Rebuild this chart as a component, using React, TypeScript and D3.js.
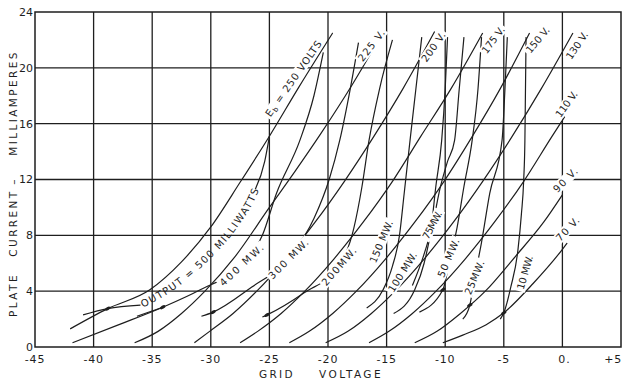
import React from 'react';
import * as d3 from 'd3';

const W = 624;
const H = 383;

// ---- axis ticks ----
const xTickValues = [-45, -40, -35, -30, -25, -20, -15, -10, -5, 0, 5];
const xTickLabels = ['-45', '-40', '-35', '-30', '-25', '-20', '-15', '-10', '-5', '0.', '+5'];
const yTickValues = [0, 4, 8, 12, 16, 20, 24];

// ---- constant plate-voltage curves (grid volts, plate mA) ----
const plate250 = [[-42, 1.3], [-38.8, 2.75], [-35.2, 4.1], [-32.5, 6.1], [-30, 8.6], [-27.5, 11.8], [-25, 15.1], [-22.5, 18.6], [-19.6, 22.5]];
const plate225 = [[-36.5, 0.3], [-34.5, 1.12], [-32.5, 2.4], [-30.5, 4.0], [-28, 6.4], [-25, 10.0], [-22.8, 12.6], [-20.6, 15.3], [-18, 18.7], [-15.2, 22.7]];
const plate200 = [[-31.4, 0.3], [-30.1, 1.12], [-28.1, 2.4], [-26.1, 3.98], [-23.6, 6.3], [-21.1, 8.94], [-18.6, 11.87], [-16.1, 15.07], [-13.6, 18.51], [-10.9, 22.6]];
const plate175 = [[-27.5, 0.3], [-26, 1.12], [-24, 2.4], [-22, 3.98], [-19.5, 6.3], [-17, 8.94], [-14.5, 11.87], [-12.1, 15.07], [-9.5, 18.51], [-6.8, 22.5]];
const plate150 = [[-23.3, 0.3], [-21.6, 1.12], [-19.6, 2.4], [-17.6, 3.98], [-15.1, 6.3], [-12.6, 8.94], [-10.1, 11.87], [-7.7, 15.07], [-5.3, 18.51], [-2.8, 22.5]];
const plate130 = [[-20.2, 0.3], [-18.3, 1.12], [-16.3, 2.4], [-14.3, 3.98], [-11.8, 6.3], [-9.3, 8.94], [-6.8, 11.87], [-4.3, 15.07], [-1.8, 18.51], [0.9, 22.5]];
const plate110 = [[-16.5, 0.3], [-14.8, 1.12], [-12.8, 2.4], [-10.8, 3.98], [-8.3, 6.3], [-5.8, 8.94], [-3.3, 11.87], [-0.9, 15.07], [0.2, 16.5]];
const plate90 = [[-12.6, 0.3], [-10.7, 1.12], [-8.7, 2.4], [-6.6, 3.98], [-4.0, 6.5], [-1.6, 8.94], [0.0, 10.9]];
const plate70 = [[-10.2, 0.3], [-8.5, 0.85], [-6.5, 1.6], [-5, 2.45], [-2.5, 4.55], [0, 7.0], [0.4, 7.45]];

const plateCurves = [plate250, plate225, plate200, plate175, plate150, plate130, plate110, plate90, plate70];
const plateLabels = ['250 VOLTS', '225 V.', '200 V.', '175 V.', '150 V.', '130 V.', '110 V.', '90 V.', '70 V.'];

// ---- constant power-output curves ----
const out500 = [[-40.9, 2.3], [-38.8, 2.75], [-36, 3.0], [-33, 4.5], [-30.5, 6.3], [-28, 8.7], [-26.2, 11.3], [-25.4, 13.3], [-25.0, 15.1]];
const out400 = [[-41.8, 0.3], [-38, 1.55], [-34.1, 2.85], [-30.9, 4.1], [-27.4, 5.9], [-25.6, 8], [-24.4, 11], [-22.4, 14.8], [-21.2, 18], [-20.4, 21.1]];
const out300 = [[-30.8, 2.2], [-29.8, 2.5], [-26.5, 4.3], [-23.4, 6.3], [-21.2, 9.2], [-19.9, 12], [-19.0, 14.8], [-18.1, 18.5], [-17.4, 21.8]];
const out200 = [[-25.6, 2.15], [-25.2, 2.3], [-22, 3.9], [-19.1, 5.8], [-17.8, 8.5], [-17.1, 11.5], [-16.5, 14.8], [-15.6, 18.5], [-14.5, 22]];
const out150 = [[-16.7, 2.8], [-15.3, 4.1], [-14.5, 5.8], [-13.9, 8], [-13.5, 11], [-13.0, 14.8], [-12.5, 18.5], [-12.0, 22.2]];
const out100 = [[-14.4, 2.4], [-12.6, 4.1], [-11.8, 6], [-11.2, 8.5], [-10.8, 11.5], [-10.3, 14.8], [-10.0, 18.5], [-9.8, 22.2]];
const out75 = [[-12.8, 4.4], [-11.9, 6.4], [-11.1, 8.7], [-10.4, 11.5], [-9.8, 13.3], [-9.2, 14.8], [-8.8, 18.5], [-8.4, 22.2]];
const out50 = [[-12.2, 2.5], [-10.2, 4.1], [-9.6, 6.3], [-9.0, 8.5], [-8.4, 11.5], [-7.7, 14.8], [-7.2, 18.5], [-6.9, 22.2]];
const out25 = [[-8.5, 2.0], [-7.9, 3.0], [-7.5, 4.9], [-6.9, 7.5], [-6.2, 11], [-5.15, 14.8], [-4.9, 18.5], [-4.7, 22.2]];
const out10 = [[-5.3, 2.0], [-5, 2.45], [-4.4, 4.3], [-3.8, 6.9], [-3.5, 9.5], [-3.3, 12], [-3.2, 14.8], [-3.15, 18.5], [-3.1, 22.2]];
const hook225 = [[-36.3, 2.2], [-34.1, 2.85]];

const outputCurves = [out400, out300, out200, out150, out100, out75, out50, out25, out10, hook225];
const outputLabels = ['OUTPUT = 500 MILLIWATTS', '400 MW.', '300 MW.', '200MW.', '150 MW.', '100 MW.', '75MW.', '50 MW.', '25MW.', '10 MW.'];

const operatingMarks = [[-38.8, 2.75], [-34.1, 2.85], [-29.8, 2.5], [-25.2, 2.3], [-10.2, 4.1], [-7.9, 3.0], [-5, 2.45]];

// ---- label layout (data anchor, rotation, text length in px) ----
const plateLabelLayout = [
  { x: -22.94, y: 19.23, a: -55, len: 90 },
  { x: -16.3, y: 21.6, a: -52, len: 37 },
  { x: -11.0, y: 21.5, a: -55, len: 34 },
  { x: -5.9, y: 22.0, a: -53, len: 31 },
  { x: -2.1, y: 22.0, a: -50, len: 31 },
  { x: 1.25, y: 21.6, a: -56, len: 31 },
  { x: 0.35, y: 17.4, a: -54, len: 30 },
  { x: 0.25, y: 11.96, a: -45, len: 30 },
  { x: 0.45, y: 8.45, a: -47, len: 29 },
];
const outputLabelLayout = [
  null,
  { x: -27.38, y: 5.87, a: -43, len: 56 },
  { x: -23.37, y: 6.3, a: -45, len: 52 },
  { x: -19.06, y: 5.77, a: -49, len: 47 },
  { x: -15.45, y: 7.55, a: -67, len: 45 },
  { x: -13.64, y: 5.37, a: -58, len: 45 },
  { x: -11.1, y: 8.74, a: -62, len: 30 },
  { x: -9.72, y: 6.38, a: -67, len: 41 },
  { x: -7.5, y: 4.98, a: -67, len: 36 },
  { x: -3.19, y: 5.34, a: -74, len: 35 },
];

const FONT = '"DejaVu Sans", "Liberation Sans", sans-serif';
const INK = '#1e1e1e';

export default function App() {
  const x = d3.scaleLinear().domain([-45, 5]).range([35, 621]);
  const y = d3.scaleLinear().domain([0, 24]).range([347, 12]);
  const line = d3
    .line<number[]>()
    .x((d) => x(d[0]))
    .y((d) => y(d[1]))
    .curve(d3.curveMonotoneX);

  const seg500a = out500.filter((p) => p[0] <= -36);
  const seg500text = out500.filter((p) => p[0] >= -36 && p[0] <= -25.4);
  const seg500b = out500.filter((p) => p[0] >= -26.2);

  const fs = 10;

  const renderLabel = (key: string, t: React.ReactNode, L: { x: number; y: number; a: number; len: number }, plain: string) => {
    const px = x(L.x);
    const py = y(L.y);
    const w = L.len + 4;
    return (
      <g key={key} transform={`rotate(${L.a} ${px} ${py})`}>
        <rect x={px - w / 2} y={py - 5.5} width={w} height={11} fill="#fff" />
        <text
          x={px}
          y={py}
          dy="0.35em"
          textAnchor="middle"
          fontFamily={FONT}
          fontSize={fs}
          fill={INK}
          textLength={L.len}
          lengthAdjust="spacing"
          aria-label={plain}
        >
          {t}
        </text>
      </g>
    );
  };

  return (
    <svg
      width={W}
      height={H}
      viewBox={`0 0 ${W} ${H}`}
      style={{ position: 'absolute', left: 0, top: 0, background: '#fff' }}
    >
      <rect x={0} y={0} width={W} height={H} fill="#fff" />
      {/* grid */}
      <g stroke={INK} strokeWidth={1.3}>
        {xTickValues.slice(1, -1).map((v) => (
          <line key={'gx' + v} x1={x(v)} x2={x(v)} y1={y(0)} y2={y(24)} />
        ))}
        {yTickValues.slice(1, -1).map((v) => (
          <line key={'gy' + v} x1={x(-45)} x2={x(5)} y1={y(v)} y2={y(v)} />
        ))}
        <rect x={x(-45)} y={y(24)} width={x(5) - x(-45)} height={y(0) - y(24)} fill="none" strokeWidth={1.5} />
      </g>

      {/* curves */}
      <g fill="none" stroke={INK} strokeWidth={1.2}>
        {plateCurves.map((c, i) => (
          <path key={'pc' + i} d={line(c) || ''} />
        ))}
        {outputCurves.map((c, i) => (
          <path key={'oc' + i} d={line(c) || ''} />
        ))}
        <path d={line(seg500a) || ''} />
        <path d={line(seg500b) || ''} />
        <path id="out500path" d={line(seg500text) || ''} stroke="none" />
      </g>

      {/* operating marks */}
      <g fill={INK}>
        {operatingMarks.map((m, i) => (
          <ellipse key={'m' + i} cx={x(m[0])} cy={y(m[1])} rx={3} ry={1.6} transform={`rotate(-30 ${x(m[0])} ${y(m[1])})`} />
        ))}
      </g>

      {/* plate voltage labels */}
      {plateLabels.map((t, i) =>
        renderLabel(
          'pl' + i,
          i === 0 ? (
            <>
              <tspan>E</tspan>
              <tspan fontSize={7} dy="2">b</tspan>
              <tspan dy="-2">{' = ' + t}</tspan>
            </>
          ) : (
            t
          ),
          plateLabelLayout[i],
          i === 0 ? 'Eb = ' + t : t
        )
      )}

      {/* output labels */}
      {outputLabels.map((t, i) => {
        const L = outputLabelLayout[i];
        if (!L) return null;
        return renderLabel('ol' + i, t, L, t);
      })}
      <text dy="0.35em" fontFamily={FONT} fontSize={fs} fill={INK}>
        <textPath href="#out500path" startOffset={1} textLength={166} lengthAdjust="spacing">
          {outputLabels[0]}
        </textPath>
      </text>

      {/* tick labels */}
      <g fontFamily={FONT} fontSize={11} fill={INK}>
        {yTickValues.map((v) => (
          <text key={'yl' + v} x={33} y={y(v)} dy="0.35em" textAnchor="end">
            {v}
          </text>
        ))}
        {xTickValues.map((v, i) => (
          <text
            key={'xl' + v}
            x={v === 5 ? 622 : x(v) + (v === 0 ? 2 : 0)}
            y={363}
            textAnchor={v === 5 ? 'end' : 'middle'}
            letterSpacing={0.8}
          >
            {xTickLabels[i]}
          </text>
        ))}
      </g>

      {/* axis titles */}
      <g fontFamily={FONT} fontSize={10.5} fill={INK} letterSpacing={2.4}>
        <text x={277} y={378} textAnchor="middle">GRID</text>
        <text x={351} y={378} textAnchor="middle">VOLTAGE</text>
        <text transform="translate(17 295) rotate(-90)" textAnchor="middle">PLATE</text>
        <text transform="translate(17 223) rotate(-90)" textAnchor="middle">CURRENT</text>
        <text transform="translate(17 181) rotate(-90)" textAnchor="middle">–</text>
        <text transform="translate(17 103) rotate(-90)" textAnchor="middle">MILLIAMPERES</text>
      </g>
    </svg>
  );
}
